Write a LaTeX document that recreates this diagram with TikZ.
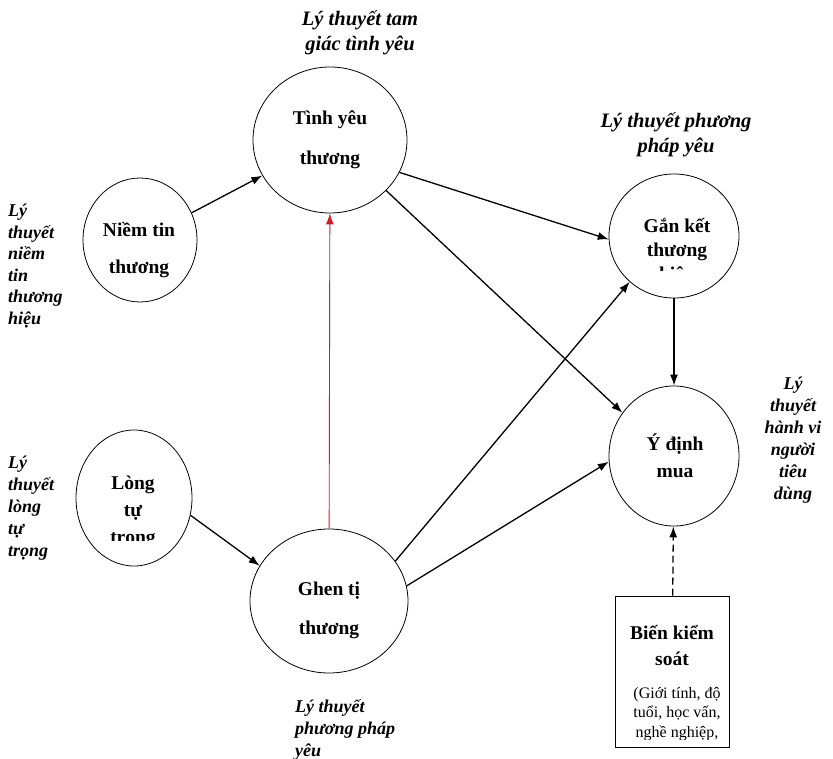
\documentclass[tikz,border=0pt]{standalone}
\usepackage{fontspec}
\setmainfont{Liberation Serif}
\usetikzlibrary{shapes.geometric,arrows.meta}

\tikzset{
  concept/.style={ellipse, draw, line width=0.8pt, inner sep=0pt},
  conceptText/.style={font=\fontsize{19.5}{23}\selectfont\bfseries, align=center, inner sep=0pt},
  detailText/.style={font=\fontsize{16}{19.5}\selectfont, align=center, inner sep=0pt},
  theory/.style={font=\fontsize{18}{22}\selectfont\bfseries\itshape, inner sep=0pt},
  link/.style={-{Latex[length=11pt,width=8pt]}, line width=1.3pt},
}

\begin{document}
\begin{tikzpicture}[x=1pt,y=-1pt]
   \useasboundingbox (0,0) rectangle (833,759);

   % the six constructs
   \node[concept, minimum width=154pt, minimum height=146pt] (tinhyeu) at (330,140) {};
   \node[concept, minimum width=114pt, minimum height=124pt] (niemtin) at (140,240) {};
   \node[concept, minimum width=116pt, minimum height=136pt] (longtu) at (134,498) {};
   \node[concept, minimum width=158pt, minimum height=144pt] (ghenti) at (329,601) {};
   \node[concept, minimum width=130pt, minimum height=124pt] (ganket) at (674,236) {};
   \node[concept, minimum width=130pt, minimum height=140pt] (ydinh) at (674,456) {};
   \node[draw, line width=0.8pt, minimum width=114pt, minimum height=151pt] (bienks) at (672,671.5) {};

   % texts inside
   \node[conceptText] (tinhyeu-txt) at (330,140) {Tình yêu\\[17pt]thương};
   \node[conceptText] (niemtin-txt) at (139,250) {Niềm tin\\[14pt]thương};
   \node[conceptText] (ghenti-txt) at (329,610) {Ghen tị\\[16pt]thương};
   \node[conceptText] (ydinh-txt) at (675,456) {Ý định\\[4pt]mua};
   \begin{scope}
     \clip (60,430) rectangle (210,540);
     \node[conceptText] (longtu-txt) at (133,512) {Lòng\\[4pt]tự\\[4pt]trọng};
   \end{scope}
   \begin{scope}
     \clip (600,170) rectangle (760,271);
     \node[conceptText] (ganket-txt) at (677,251) {Gắn kết\\[1pt]thương\\[1pt]hiệu};
   \end{scope}
   \node[conceptText] (bienks-txt) at (672,645) {Biến kiểm\\[3pt]soát};
   \begin{scope}
     \clip (616,680) rectangle (728,739);
     \node[detailText] (bienks-sub) at (677,714) {(Giới tính, độ\\tuổi, học vấn,\\nghề nghiệp,};
   \end{scope}

   % theories
   \node[theory, align=center, font=\fontsize{20.5}{25}\selectfont\bfseries\itshape] (lt-tamgiac) at (360,33) {Lý thuyết tam\\giác tình yêu};
   \node[theory, align=center, font=\fontsize{20.5}{25}\selectfont\bfseries\itshape] (lt-phuongphap) at (676,135) {Lý thuyết phương\\pháp yêu};
   \node[theory, align=left, anchor=west, font=\fontsize{18}{21.5}\selectfont\bfseries\itshape] (lt-niemtin) at (8,266) {Lý\\thuyết\\niềm\\tin\\thương\\hiệu};
   \node[theory, align=left, anchor=west] (lt-longtu) at (8,508) {Lý\\thuyết\\lòng\\tự\\trọng};
   \node[theory, align=center] (lt-hanhvi) at (793,440) {Lý\\thuyết\\hành vi\\người\\tiêu\\dùng};
   \node[theory, align=left, anchor=west] (lt-yeu) at (295,730) {Lý thuyết\\phương pháp\\yêu};

   % relations
   \draw[link] (niemtin) -- (tinhyeu);
   \draw[link] (tinhyeu.-25) -- (ganket.183);
   \draw[link] (tinhyeu.-42) -- (ydinh.140);
   \draw[link, line width=0.9pt, color={rgb,255:red,200;green,30;blue,40}] (ghenti) -- (tinhyeu);
   \draw[link] (longtu.-17) -- (ghenti.153);
   \draw[link] (ghenti.31) -- (ganket.-134);
   \draw[link] (ghenti.11) -- (ydinh.185);
   \draw[link] (ganket) -- (ydinh);
   \draw[link, dash pattern=on 7pt off 4pt] (bienks) -- (ydinh);
\end{tikzpicture}
\end{document}
